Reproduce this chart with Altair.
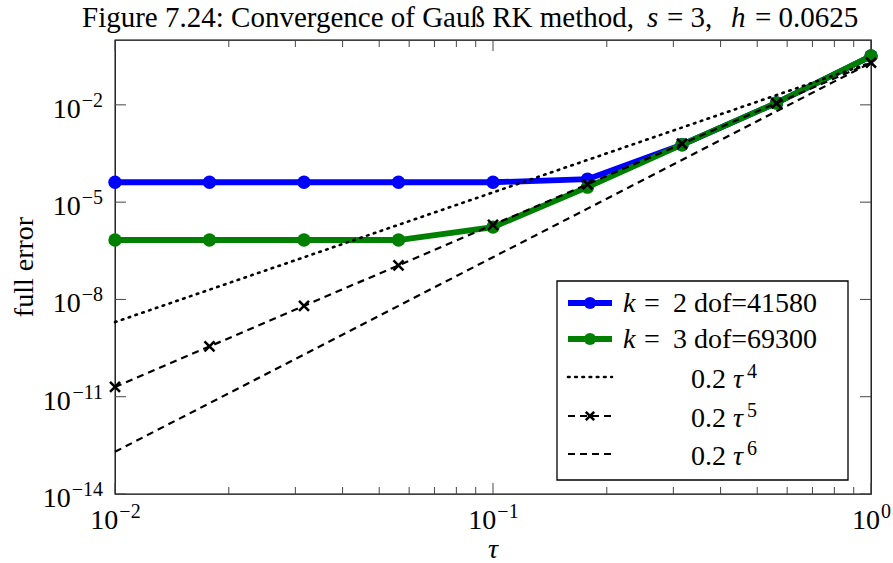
import math
import altair as alt
import pandas as pd

# ---- data -------------------------------------------------------------
tau = [0.01, 0.01778, 0.03162, 0.05623, 0.1, 0.1778, 0.3162, 0.5623, 1.0]
err_k2 = [4.1e-5, 4.1e-5, 4.1e-5, 4.1e-5, 4.1e-5, 5.1e-5, 5.9e-4, 1.15e-2, 0.32]
err_k3 = [6.8e-7, 6.8e-7, 6.8e-7, 6.8e-7, 1.7e-6, 2.9e-5, 5.9e-4, 1.15e-2, 0.32]
ref_coef = 0.2
ref_orders = [4, 5, 6]

x_major = [0.01, 0.1, 1.0]
x_minor = [m * 10.0 ** e for e in (-2, -1) for m in range(2, 10)]
y_major = [1e-14, 1e-11, 1e-8, 1e-5, 1e-2]

# ---- layout -----------------------------------------------------------
FONT = "Liberation Serif"
W, H = 756, 454          # plot area
OX, OY = 115, 40         # plot origin inside the page
LBL = 28                 # main text size
SUP = 20                 # superscript size

xs = alt.Scale(type="log", domain=[0.01, 1.0], nice=False)
ys = alt.Scale(type="log", domain=[1e-14, 1.0], nice=False)
one = alt.Data(values=[{}])


def txt(s, x, y, size=LBL, italic=False, align="left", angle=0, baseline="alphabetic"):
    """Text placed in page pixel coordinates."""
    return alt.Chart(one).mark_text(
        text=s, font=FONT, fontSize=size, color="black",
        fontStyle="italic" if italic else "normal",
        align=align, baseline=baseline, angle=angle,
    ).encode(x=alt.value(x - OX), y=alt.value(y - OY))


layers = []

# ---- measured series ---------------------------------------------------
series = [("k = 2", err_k2, "#0000ff"), ("k = 3", err_k3, "#008000")]
for name, errs, col in series:
    d = pd.DataFrame({"tau": tau, "err": errs})
    base = alt.Chart(d).encode(
        x=alt.X("tau:Q", scale=xs, axis=None),
        y=alt.Y("err:Q", scale=ys, axis=None),
    )
    layers.append(base.mark_line(color=col, strokeWidth=5.8))
    layers.append(base.mark_point(color=col, filled=True, opacity=1, size=180, strokeWidth=0))

# ---- reference slopes 0.2 tau^p ----------------------------------------
ref_df = pd.DataFrame({"tau": tau})
ref_style = {4: dict(strokeDash=[1.6, 5.6], strokeWidth=2.6, strokeCap="round"),
             5: dict(strokeDash=[7, 5], strokeWidth=2.2),
             6: dict(strokeDash=[7, 5], strokeWidth=2.2)}
for p in ref_orders:
    base = alt.Chart(ref_df).transform_calculate(
        val=f"{ref_coef} * pow(datum.tau, {p})"
    ).encode(
        x=alt.X("tau:Q", scale=xs, axis=None),
        y=alt.Y("val:Q", scale=ys, axis=None),
    )
    layers.append(base.mark_line(color="black", **ref_style[p]))
    if p == 5:
        layers.append(base.mark_point(
            shape="M-1,-1L1,1M1,-1L-1,1", size=100, filled=False,
            stroke="black", strokeWidth=2.6, opacity=1,
        ))

# ---- inward ticks on all four sides ------------------------------------
tick_col = "#444444"
for vals, ln in ((x_major, 11), (x_minor, 7)):
    td = pd.DataFrame({"v": vals})
    tx = alt.X("v:Q", scale=xs, axis=None)
    layers.append(alt.Chart(td).mark_rule(color=tick_col, strokeWidth=1).encode(
        x=tx, y=alt.value(H), y2=alt.value(H - ln)))
    layers.append(alt.Chart(td).mark_rule(color=tick_col, strokeWidth=1).encode(
        x=tx, y=alt.value(0), y2=alt.value(ln)))
yd = pd.DataFrame({"v": y_major})
ty = alt.Y("v:Q", scale=ys, axis=None)
layers.append(alt.Chart(yd).mark_rule(color=tick_col, strokeWidth=1).encode(
    y=ty, x=alt.value(0), x2=alt.value(11)))
layers.append(alt.Chart(yd).mark_rule(color=tick_col, strokeWidth=1).encode(
    y=ty, x=alt.value(W - 11), x2=alt.value(W)))


# ---- tick labels 10^e ---------------------------------------------------
def sup_of(v):
    e = int(round(math.log10(v)))
    s = ("\u2212" + str(-e)) if e < 0 else str(e)
    w = SUP * (0.5 * len(str(abs(e))) + (0.564 if e < 0 else 0.0))
    return s, w


W10 = LBL * 1.0
for v in x_major:
    s, ws = sup_of(v)
    left = -(W10 + ws) / 2
    d = alt.Data(values=[{"v": v}])
    tx = alt.X("v:Q", scale=xs, axis=None)
    layers.append(alt.Chart(d).mark_text(
        text="10", font=FONT, fontSize=LBL, align="left", baseline="alphabetic",
        dx=left, color="black").encode(x=tx, y=alt.value(529 - OY)))
    layers.append(alt.Chart(d).mark_text(
        text=s, font=FONT, fontSize=SUP, align="left", baseline="alphabetic",
        dx=left + W10 + 1, color="black").encode(x=tx, y=alt.value(518 - OY)))

for v in y_major:
    s, ws = sup_of(v)
    d = alt.Data(values=[{"v": v}])
    ty = alt.Y("v:Q", scale=ys, axis=None)
    layers.append(alt.Chart(d).mark_text(
        text=s, font=FONT, fontSize=SUP, align="right", baseline="alphabetic",
        dy=2, color="black").encode(y=ty, x=alt.value(103 - OX)))
    layers.append(alt.Chart(d).mark_text(
        text="10", font=FONT, fontSize=LBL, align="right", baseline="alphabetic",
        dy=13, color="black").encode(y=ty, x=alt.value(103 - OX - ws - 1)))

# ---- axis titles and figure title ----------------------------------------
layers.append(txt("full error", 33, 267, align="center", angle=270))
layers.append(txt("\u03c4", 493, 550, italic=True, align="center", baseline="middle"))

TT = 29
TB = 27
layers += [
    txt("Figure 7.24: Convergence of Gau\u00df RK method,", 634, TB, size=TT, align="right"),
    txt("s", 647, TB, size=TT, italic=True),
    txt("= 3,", 667, TB, size=TT),
    txt("h", 731, TB, size=TT, italic=True),
    txt("= 0.0625", 755, TB, size=TT),
]

# ---- legend ----------------------------------------------------------------
layers.append(alt.Chart(one).mark_rect(fill="white", stroke="black", strokeWidth=1.3).encode(
    x=alt.value(557 - OX), x2=alt.value(848 - OX),
    y=alt.value(281 - OY), y2=alt.value(480 - OY)))

rows_y = [303, 339, 377, 416, 454]
for (name, errs, col), ry in zip(series, rows_y[:2]):
    layers.append(alt.Chart(one).mark_rule(color=col, strokeWidth=5.8).encode(
        x=alt.value(568 - OX), x2=alt.value(612 - OX), y=alt.value(ry - OY)))
    layers.append(alt.Chart(one).mark_point(color=col, filled=True, opacity=1, size=150).encode(
        x=alt.value(590 - OX), y=alt.value(ry - OY)))
layers += [
    txt("k", 623, 312, italic=True), txt("=", 652, 312, align="center"), txt("2 dof=41580", 673, 312),
    txt("k", 623, 348, italic=True), txt("=", 652, 348, align="center"), txt("3 dof=69300", 673, 348),
]
for p, ry in zip(ref_orders, rows_y[2:]):
    st = ref_style[p]
    layers.append(alt.Chart(one).mark_rule(color="black", **st).encode(
        x=alt.value(568 - OX), x2=alt.value(612 - OX), y=alt.value(ry - OY)))
    if p == 5:
        layers.append(alt.Chart(one).mark_point(
            shape="M-1,-1L1,1M1,-1L-1,1", size=70, filled=False,
            stroke="black", strokeWidth=2.6, opacity=1,
        ).encode(x=alt.value(590 - OX), y=alt.value(ry - OY)))
    base_y = ry + 11
    layers += [
        txt(f"{ref_coef}", 691, base_y),
        txt("\u03c4", 733, base_y, italic=True),
        txt(str(p), 747, base_y - 10, size=SUP),
    ]

chart = alt.layer(*layers).properties(
    width=W, height=H,
    autosize=alt.AutoSizeParams(type="none"),
    padding={"left": OX, "top": OY, "right": 893 - OX - W, "bottom": 563 - OY - H},
).configure_view(stroke="black", strokeWidth=1.3)

chart.save("out.html", embed_options={"renderer": "svg", "actions": False})
